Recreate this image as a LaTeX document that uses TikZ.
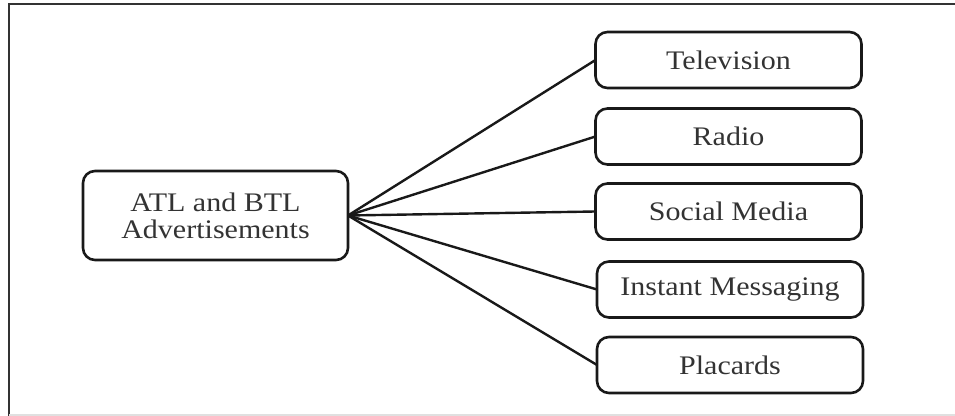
\documentclass[tikz,border=0pt]{standalone}
\usepackage{fontspec}
\setmainfont{Liberation Serif}[FakeStretch=1.12]
\begin{document}
\begin{tikzpicture}[x=0.5pt,y=-0.5pt,
  box/.style={draw=black!90, line width=1.3pt, rounded corners=6pt, inner sep=0pt, outer sep=0pt,
    minimum width=133pt, minimum height=28pt, align=center,
    font=\fontsize{13.4}{13.5}\selectfont, text=black!80},
  link/.style={draw=black!90, line width=1.2pt}]
\useasboundingbox (0,0) rectangle (955,416);
\draw[line width=1.2pt, black!80] (9,416) -- (9,4) -- (955,4);
\draw[line width=0.6pt, black!12] (9,415) -- (955,415);
\node[box, minimum width=132.5pt, minimum height=44.5pt] (src) at (215.5,215.5) {ATL and BTL\\Advertisements};
\node[box] (tv) at (728.5,60) {Television};
\node[box] (radio) at (728.5,136.5) {Radio};
\node[box] (social) at (728.5,211.5) {Social Media};
\node[box] (im) at (730,289.5) {Instant Messaging};
\node[box] (plac) at (730,365) {Placards};
\foreach \t in {tv,radio,social,im,plac}
  \draw[link] (src.east) -- (\t.west);
\end{tikzpicture}
\end{document}
